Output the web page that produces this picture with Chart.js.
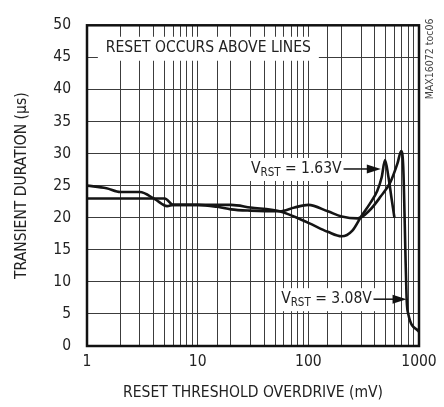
<!DOCTYPE html>
<html>
<head>
<meta charset="utf-8">
<script src="https://cdn.jsdelivr.net/npm/chart.js@4.4.1/dist/chart.umd.min.js"></script>
<style>
html, body { margin: 0; padding: 0; background: #fff; }
</style>
</head>
<body>
<canvas id="grafico" width="444" height="407"></canvas>
<script>
const fuente = '"Liberation Sans Narrow", "DejaVu Sans Condensed", "Arial Narrow", sans-serif';
const tam = 15.5;

// VRST = 3.08V (arranca en 25us)
const overdrive308 = [1, 1.5, 2, 3, 4.1, 5.3, 6, 10, 15, 20, 30, 55, 75, 100, 150, 200, 280, 360, 450, 550, 640, 690, 720, 760, 775, 800, 1000];
const duracion308 = [25, 24.6, 24, 24, 22.9, 21.8, 22, 22, 21.7, 21.3, 21.1, 21, 21.6, 22, 21, 20.2, 19.9, 21.2, 23.3, 25.5, 28.5, 30.4, 28, 12, 7, 5, 2.2];

// VRST = 1.63V (arranca en 23us)
const overdrive163 = [1, 3, 5.05, 6, 10, 20, 30, 55, 100, 150, 200, 250, 300, 360, 420, 460, 493, 530, 565, 600];
const duracion163 = [23, 23, 23, 22, 22, 22, 21.6, 21, 19.2, 17.8, 17.1, 18, 20.2, 22.2, 24.2, 26.3, 29, 26.3, 23, 20];

const ticksX = [1, 10, 100, 1000];
const ticksY = [0, 5, 10, 15, 20, 25, 30, 35, 40, 45, 50];

function puntos(xs, ys) {
    let arr = [];
    for (let i = 0; i < xs.length; i++) {
        arr.push({x: xs[i], y: ys[i]});
    }
    return arr;
}

function etiquetaVrst(ctx, xDer, yMed, valor) {
    // "V" + subindice "RST" + " = x.xxV", alineado a la derecha
    const fGrande = tam + 'px ' + fuente;
    const fChica = '11.5px ' + fuente;
    ctx.font = fGrande;
    const w1 = ctx.measureText('V').width;
    const w3 = ctx.measureText(' = ' + valor).width;
    ctx.font = fChica;
    const w2 = ctx.measureText('RST').width;
    const total = w1 + w2 + w3;
    let x0 = xDer - total;
    ctx.fillStyle = '#fff';
    ctx.fillRect(x0 - 4, yMed - 11, total + 8, 23);
    ctx.fillStyle = '#222';
    ctx.textAlign = 'left';
    ctx.textBaseline = 'middle';
    ctx.font = fGrande;
    ctx.fillText('V', x0, yMed);
    ctx.font = fChica;
    ctx.fillText('RST', x0 + w1, yMed + 4);
    ctx.font = fGrande;
    ctx.fillText(' = ' + valor, x0 + w1 + w2, yMed);
}

function flecha(ctx, x1, y, x2) {
    ctx.strokeStyle = '#111';
    ctx.lineWidth = 1.5;
    ctx.beginPath();
    ctx.moveTo(x1, y);
    ctx.lineTo(x2 - 10, y);
    ctx.stroke();
    ctx.fillStyle = '#111';
    ctx.beginPath();
    ctx.moveTo(x2, y);
    ctx.lineTo(x2 - 14, y - 4.5);
    ctx.lineTo(x2 - 14, y + 4.5);
    ctx.closePath();
    ctx.fill();
}

const anotaciones = {
    id: 'anotaciones',
    beforeDatasetsDraw(chart) {
        const ctx = chart.ctx;
        const sx = chart.scales.x;
        const sy = chart.scales.y;
        ctx.save();
        // caja con la leyenda de arriba
        ctx.font = tam + 'px ' + fuente;
        const texto = 'RESET OCCURS ABOVE LINES';
        const w = ctx.measureText(texto).width;
        const tx = sx.getPixelForValue(1.48);
        const ty = sy.getPixelForValue(46.5);
        ctx.fillStyle = '#fff';
        ctx.fillRect(tx - 8, ty - 11, w + 16, 24);
        ctx.fillStyle = '#222';
        ctx.textAlign = 'left';
        ctx.textBaseline = 'middle';
        ctx.fillText(texto, tx, ty);

        etiquetaVrst(ctx, sx.getPixelForValue(200), sy.getPixelForValue(27.6), '1.63V');
        etiquetaVrst(ctx, sx.getPixelForValue(375), sy.getPixelForValue(7.3), '3.08V');
        ctx.restore();
    },
    afterDatasetsDraw(chart) {
        const ctx = chart.ctx;
        const a = chart.chartArea;
        const sx = chart.scales.x;
        const sy = chart.scales.y;
        ctx.save();
        flecha(ctx, sx.getPixelForValue(208), sy.getPixelForValue(27.6), sx.getPixelForValue(452));
        flecha(ctx, sx.getPixelForValue(388), sy.getPixelForValue(7.3), sx.getPixelForValue(772));

        // marco del grafico
        ctx.strokeStyle = '#111';
        ctx.lineWidth = 2.5;
        ctx.strokeRect(a.left, a.top, a.right - a.left, a.bottom - a.top);

        // codigo de la figura, vertical a la derecha
        ctx.translate(a.right + 11, a.top + 74);
        ctx.rotate(-Math.PI / 2);
        ctx.font = '10.5px ' + fuente;
        ctx.fillStyle = '#444';
        ctx.textAlign = 'left';
        ctx.textBaseline = 'middle';
        ctx.fillText('MAX16072 toc06', 0, 0);
        ctx.restore();
    }
};

new Chart(document.getElementById('grafico'), {
    type: 'scatter',
    data: {
        datasets: [{
            label: 'VRST = 3.08V',
            data: puntos(overdrive308, duracion308),
            showLine: true,
            borderColor: '#151515',
            borderWidth: 2.6,
            pointRadius: 0,
            cubicInterpolationMode: 'monotone'
        }, {
            label: 'VRST = 1.63V',
            data: puntos(overdrive163, duracion163),
            showLine: true,
            borderColor: '#151515',
            borderWidth: 2.6,
            pointRadius: 0,
            cubicInterpolationMode: 'monotone'
        }]
    },
    options: {
        responsive: false,
        animation: false,
        layout: { padding: { left: 0, right: 25, top: 14, bottom: 0 } },
        plugins: {
            legend: { display: false },
            tooltip: { enabled: false }
        },
        scales: {
            x: {
                type: 'logarithmic',
                min: 1,
                max: 1000,
                afterFit: (eje) => { eje.height = 61; },
                border: { display: false },
                grid: { color: '#3c3c3c', lineWidth: 1, drawTicks: false },
                ticks: {
                    autoSkip: false,
                    maxRotation: 0,
                    padding: 7,
                    color: '#222',
                    font: { family: fuente, size: tam },
                    callback: (v) => ticksX.includes(v) ? String(v) : ''
                },
                title: {
                    display: true,
                    text: 'RESET THRESHOLD OVERDRIVE (mV)',
                    color: '#222',
                    font: { family: fuente, size: tam },
                    padding: { top: 0, bottom: 5 }
                }
            },
            y: {
                min: 0,
                max: 50,
                afterFit: (eje) => { eje.width = 87; },
                afterBuildTicks: (eje) => { eje.ticks = ticksY.map(v => ({value: v})); },
                border: { display: false },
                grid: { color: '#3c3c3c', lineWidth: 1, drawTicks: false },
                ticks: {
                    padding: 16,
                    color: '#222',
                    font: { family: fuente, size: tam }
                },
                title: {
                    display: true,
                    text: 'TRANSIENT DURATION (µs)',
                    color: '#222',
                    font: { family: fuente, size: tam },
                    padding: { top: 13, bottom: 0 }
                }
            }
        }
    },
    plugins: [anotaciones]
});
</script>
</body>
</html>
